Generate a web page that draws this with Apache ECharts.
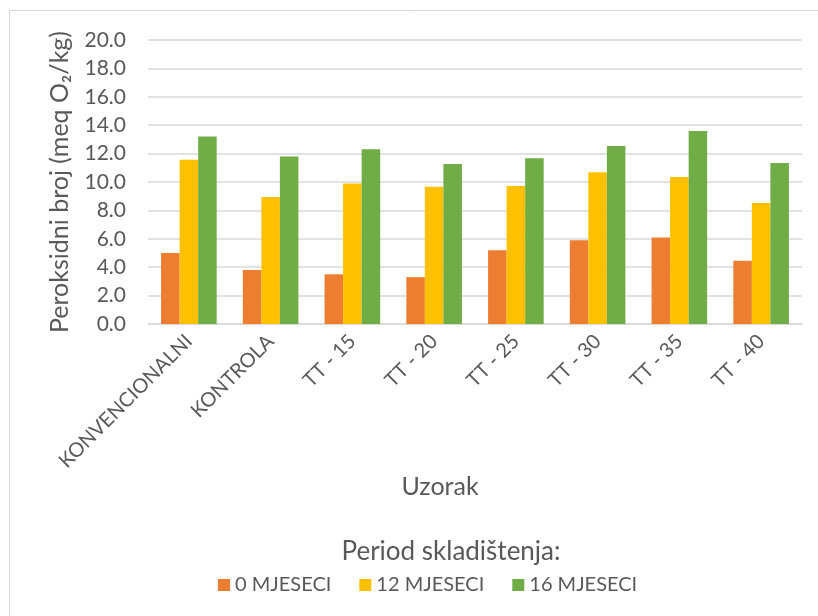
<!DOCTYPE html>
<html>
<head>
<meta charset="utf-8">
<script src="https://cdn.jsdelivr.net/npm/echarts@6/dist/echarts.min.js"></script>
<style>
  html, body { margin: 0; padding: 0; background: #fff; }
  #chart { width: 818px; height: 616px; }
</style>
</head>
<body>
<div id="chart"></div>
<script>
// sample categories
const categories = ["KONVENCIONALNI", "KONTROLA", "TT - 15", "TT - 20", "TT - 25", "TT - 30", "TT - 35", "TT - 40"];
const seriesNames = ["0 MJESECI", "12 MJESECI", "16 MJESECI"];
// peroxide value per storage period
const months0 = [5.0, 3.8, 3.5, 3.3, 5.2, 5.9, 6.1, 4.45];
const months12 = [11.57, 8.95, 9.9, 9.67, 9.72, 10.68, 10.35, 8.52];
const months16 = [13.2, 11.8, 12.3, 11.27, 11.67, 12.53, 13.6, 11.34];
const colors = ["#ED7D31", "#FFC000", "#70AD47"];

const font = "Lato, 'Open Sans', sans-serif";
const textColor = "#595959";

const chart = echarts.init(document.getElementById("chart"));

const option = {
  animation: false,
  textStyle: { fontFamily: font, color: textColor },
  graphic: [
    {
      type: "rect",
      shape: { x: 9.5, y: 10.5, width: 830, height: 630 },
      style: { fill: "none", stroke: "#D9D9D9", lineWidth: 1 },
      silent: true,
    },
  ],
  title: {
    text: "Period skladištenja:",
    left: 446,
    textAlign: "center",
    top: 534,
    textStyle: { fontFamily: font, color: textColor, fontSize: 26, fontWeight: "normal" },
  },
  legend: {
    data: seriesNames,
    left: 213,
    top: 570,
    itemWidth: 12,
    itemHeight: 12,
    itemGap: 28,
    icon: "rect",
    textStyle: { fontFamily: font, color: textColor, fontSize: 20 },
  },
  grid: { left: 148, right: 16, top: 40, bottom: 292, containLabel: false },
  xAxis: {
    type: "category",
    data: categories,
    name: "Uzorak",
    nameLocation: "middle",
    nameGap: 150,
    nameTextStyle: { fontFamily: font, color: textColor, fontSize: 25, padding: [0, 70, 0, 0] },
    axisLine: { lineStyle: { color: "#D9D9D9", width: 1.5 } },
    axisTick: { show: false },
    axisLabel: { rotate: 45, margin: 14, fontSize: 20, color: textColor, fontFamily: font },
  },
  yAxis: {
    type: "value",
    min: 0,
    max: 20,
    interval: 2,
    name: "Peroksidni broj (meq O₂/kg)",
    nameLocation: "middle",
    nameGap: 76,
    nameTextStyle: { fontFamily: font, color: textColor, fontSize: 25 },
    axisLine: { show: false },
    axisTick: { show: false },
    axisLabel: {
      margin: 22,
      fontSize: 21,
      color: textColor,
      fontFamily: font,
      formatter: (v) => v.toFixed(1),
    },
    splitLine: { lineStyle: { color: "#D9D9D9", width: 1.5 } },
  },
  series: [
    { name: seriesNames[0], type: "bar", data: months0, itemStyle: { color: colors[0] }, barGap: "0%", barCategoryGap: "32%" },
    { name: seriesNames[1], type: "bar", data: months12, itemStyle: { color: colors[1] }, barGap: "0%", barCategoryGap: "32%" },
    { name: seriesNames[2], type: "bar", data: months16, itemStyle: { color: colors[2] }, barGap: "0%", barCategoryGap: "32%" },
  ],
};

chart.setOption(option);
</script>
</body>
</html>
